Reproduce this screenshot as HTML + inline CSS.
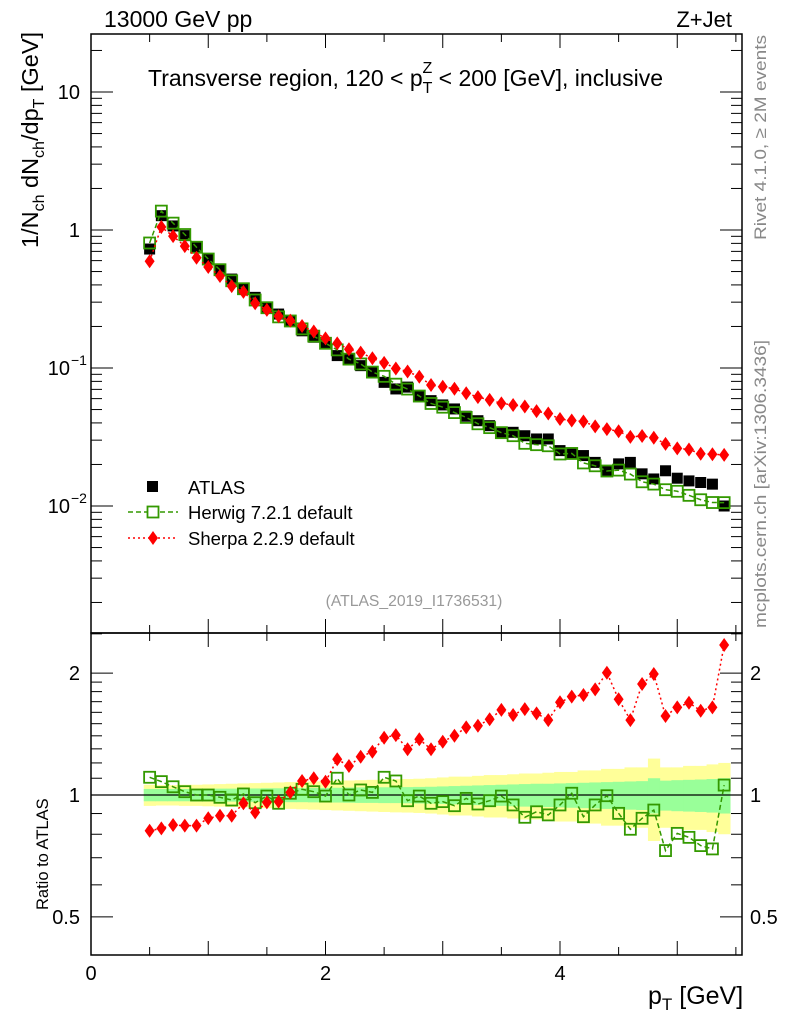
<!DOCTYPE html>
<html><head><meta charset="utf-8"><style>
body{margin:0;background:#fff;}
svg{display:block;font-family:"Liberation Sans",sans-serif;}
</style></head><body>
<svg id="c" width="786" height="1024" viewBox="0 0 786 1024"></svg>
<script>
const xVals=[];for(let i=0;i<50;i++)xVals.push(+(0.5+0.1*i).toFixed(2));
const atlas=[0.728,1.27,1.07,0.91,0.75,0.616,0.522,0.441,0.373,0.325,0.275,0.246,0.217,0.186,0.167,0.152,0.123,0.116,0.104,0.092,0.0787,0.0705,0.0727,0.063,0.058,0.054,0.0505,0.0447,0.0415,0.0382,0.0342,0.0342,0.0323,0.0306,0.0306,0.0252,0.0238,0.0232,0.0207,0.018,0.0202,0.0207,0.0171,0.0157,0.018,0.0159,0.0152,0.0148,0.0144,0.0100];
const herwigRatio=[1.106,1.079,1.048,1.019,1,1,0.987,0.972,1.006,0.957,0.994,0.954,1.01,1.033,1.019,0.994,1.1,1,1.029,1.015,1.106,1.083,0.968,0.994,0.954,0.963,0.941,0.981,0.950,0.968,0.994,0.945,0.881,0.909,0.893,0.945,1.01,0.884,0.945,0.996,0.901,0.823,0.876,0.918,0.729,0.804,0.786,0.75,0.736,1.058];
const sherpaRatio=[0.816,0.827,0.843,0.840,0.840,0.876,0.889,0.889,0.954,0.906,0.959,0.963,1.015,1.083,1.100,1.078,1.225,1.179,1.243,1.279,1.385,1.406,1.297,1.373,1.297,1.354,1.401,1.469,1.483,1.538,1.622,1.576,1.630,1.591,1.531,1.694,1.749,1.766,1.823,2.004,1.723,1.531,1.88,1.99,1.567,1.646,1.69,1.615,1.646,2.346];
const errTot=[0.06,0.058,0.058,0.06,0.06,0.062,0.064,0.066,0.068,0.07,0.072,0.074,0.076,0.078,0.08,0.082,0.084,0.086,0.088,0.09,0.092,0.094,0.095,0.097,0.1,0.105,0.11,0.11,0.115,0.12,0.12,0.125,0.13,0.13,0.135,0.14,0.14,0.15,0.15,0.16,0.16,0.17,0.17,0.23,0.17,0.17,0.18,0.18,0.19,0.2];
const errStat=[0.035,0.035,0.035,0.035,0.036,0.036,0.037,0.037,0.038,0.038,0.039,0.039,0.04,0.04,0.041,0.041,0.042,0.043,0.044,0.044,0.045,0.045,0.046,0.047,0.048,0.05,0.052,0.054,0.056,0.058,0.06,0.062,0.064,0.066,0.066,0.068,0.07,0.072,0.074,0.076,0.078,0.08,0.082,0.1,0.085,0.088,0.09,0.092,0.095,0.1];
const xTickLabels=["0","2","4"];
const yRatioLabels=["0.5","1","2"];

const NS="http://www.w3.org/2000/svg";
const svg=document.getElementById('c');
function mk(tag,attrs,parent){const e=document.createElementNS(NS,tag);for(const k in attrs)e.setAttribute(k,attrs[k]);(parent||svg).appendChild(e);return e;}
const L=91,R=742,T=34,MB=633,B=955;
const X=v=>L+v*117.25;
const Y=v=>230-138*Math.log10(v);
const YR=v=>795-405*Math.log10(v);

const gBand=mk('g',{});


xVals.forEach((x,i)=>{
  const a=mk('rect',{x:X(x-0.05),width:117.25*0.1+0.5,y:YR(1+errTot[i]),height:YR(1-errTot[i])-YR(1+errTot[i]),fill:'#ffff99'},gBand);
  
  
});
xVals.forEach((x,i)=>{
  const a=mk('rect',{x:X(x-0.05),width:117.25*0.1+0.5,y:YR(1+errStat[i]),height:YR(1-errStat[i])-YR(1+errStat[i]),fill:'#99ff99'},gBand);
  
  
});
const ref=mk('line',{x1:L,x2:R,y1:YR(1),y2:YR(1),stroke:'#000','stroke-width':1.3});



for(const [t,b,n] of [[T,MB,'main-plot-frame'],[MB,B,'ratio-plot-frame']]){
  const f=mk('rect',{x:L,y:t,width:R-L,height:b-t,fill:'none',stroke:'#000','stroke-width':1.5});
  
  
}
function tick(x1,y1,x2,y2){mk('line',{x1,y1,x2,y2,stroke:'#000','stroke-width':1});}
for(let v=0;v<=5.5;v+=0.5){
  const major=Math.abs(v-Math.round(v))<1e-6;const len=major?14:8;
  for(const [t,b] of [[T,MB],[MB,B]]){tick(X(v),b,X(v),b-len);tick(X(v),t,X(v),t+len);}
}
xTickLabels.forEach(s=>{const t=mk('text',{x:X(+s),y:980,'font-size':20,'text-anchor':'middle'});t.textContent=s;
  });
for(let d=-3;d<=1;d++){for(let m=1;m<=9;m++){const v=m*Math.pow(10,d);const y=Y(v);if(y<T||y>MB)continue;const len=m===1?22:11;tick(L,y,L+len,y);tick(R,y,R-len,y);}}
[[10,'10',null],[1,'1',null],[0.1,'10','−1'],[0.01,'10','−2']].forEach(([v,b,e])=>{
  const t=mk('text',{x:e?70:80,y:Y(v)+7,'font-size':20,'text-anchor':'end'});t.textContent=b;
  
  if(e){const s=mk('text',{x:71,y:Y(v)-3,'font-size':14});s.textContent=e;}
});
[0.5,0.6,0.7,0.8,0.9,1,1.1,1.2,1.3,1.4,1.5,1.6,1.7,1.8,1.9,2,2.5].forEach(v=>{const y=YR(v);if(y<MB||y>B)return;const len=(v===0.5||v===1||v===2)?22:11;tick(L,y,L+len,y);tick(R,y,R-len,y);});
yRatioLabels.forEach(s=>{const v=+s;
  const t=mk('text',{x:80,y:YR(v)+7,'font-size':20,'text-anchor':'end'});t.textContent=s;
  
  const t2=mk('text',{x:750,y:YR(v)+7,'font-size':20});t2.textContent=s;
  });

function diamond(cx,cy,g){return mk('polygon',{points:`${cx},${cy-7} ${cx+5},${cy} ${cx},${cy+7} ${cx-5},${cy}`,fill:'#ff0000'},g);}
function sq(cx,cy,g){return mk('rect',{x:cx-5.5,y:cy-5.5,width:11,height:11,fill:'none',stroke:'#339900','stroke-width':1.8},g);}
function line(pts,color,dash,g){return mk('polyline',{points:pts.map(p=>p.join(',')).join(' '),fill:'none',stroke:color,'stroke-width':1.5,'stroke-dasharray':dash},g);}

const atlasG=mk('g',{});
const herG=mk('g',{});
const sheG=mk('g',{});
line(xVals.map((x,i)=>[X(x),Y(atlas[i]*herwigRatio[i])]),'#339900','5,3',herG);
line(xVals.map((x,i)=>[X(x),Y(atlas[i]*sherpaRatio[i])]),'#ff0000','2,3',sheG);
xVals.forEach((x,i)=>{const r=mk('rect',{x:X(x)-5.5,y:Y(atlas[i])-5.5,width:11,height:11,fill:'#000'},atlasG);
  });
xVals.forEach((x,i)=>{const r=sq(X(x),Y(atlas[i]*herwigRatio[i]),herG);
  });
xVals.forEach((x,i)=>{const r=diamond(X(x),Y(atlas[i]*sherpaRatio[i]),sheG);
  });
const herR=mk('g',{});
const sheR=mk('g',{});
line(xVals.map((x,i)=>[X(x),YR(herwigRatio[i])]),'#339900','5,3',herR);
line(xVals.map((x,i)=>[X(x),YR(sherpaRatio[i])]),'#ff0000','2,3',sheR);
xVals.forEach((x,i)=>{const r=sq(X(x),YR(herwigRatio[i]),herR);
  });
xVals.forEach((x,i)=>{const r=diamond(X(x),YR(sherpaRatio[i]),sheR);
  });
</script>
<svg width="786" height="1024" style="position:absolute;left:0;top:0" font-family="Liberation Sans, sans-serif">
<text x="104" y="27" font-size="23">13000 GeV pp</text>
<text x="732" y="27" font-size="22" text-anchor="end">Z+Jet</text>
<text x="148" y="86" font-size="23">Transverse region, 120 &lt; p<tspan font-size="16" dy="7">T</tspan><tspan font-size="16" dx="-10" dy="-20">Z</tspan><tspan dy="13"> &lt; 200 [GeV], inclusive</tspan></text>
<g transform="translate(38,248) rotate(-90)">
<text x="0" y="0" font-size="23.5">1/N<tspan font-size="16" dy="6">ch</tspan><tspan dy="-6"> dN</tspan><tspan font-size="16" dy="6">ch</tspan><tspan dy="-6">/dp</tspan><tspan font-size="16" dy="6">T</tspan><tspan dy="-6"> [GeV]</tspan></text></g>
<text transform="translate(48,910) rotate(-90)" font-size="16.5">Ratio to ATLAS</text>
<text x="648" y="1004" font-size="25">p<tspan font-size="17" dy="6">T</tspan><tspan dy="-6"> [GeV]</tspan></text>
<text transform="translate(766,240) rotate(-90)" font-size="17" fill="#888" textLength="205" lengthAdjust="spacingAndGlyphs">Rivet 4.1.0, ≥ 2M events</text>
<text transform="translate(766,628) rotate(-90)" font-size="17" fill="#888" textLength="288" lengthAdjust="spacingAndGlyphs">mcplots.cern.ch [arXiv:1306.3436]</text>
<text x="414" y="606" font-size="15.7" fill="#999" text-anchor="middle">(ATLAS_2019_I1736531)</text>
<g>
<rect x="147" y="481" width="11" height="11" fill="#000"/>
<text x="188" y="494" font-size="18.5">ATLAS</text>
<line x1="128" y1="512" x2="178" y2="512" stroke="#339900" stroke-width="1.5" stroke-dasharray="5,3"/>
<rect x="147.5" y="506.5" width="11" height="11" fill="#fff" stroke="#339900" stroke-width="1.8"/>
<text x="188" y="519" font-size="18.5">Herwig 7.2.1 default</text>
<line x1="128" y1="538" x2="178" y2="538" stroke="#ff0000" stroke-width="1.5" stroke-dasharray="2,3"/>
<polygon points="153,531 158,538 153,545 148,538" fill="#ff0000"/>
<text x="188" y="545" font-size="18.5">Sherpa 2.2.9 default</text>
</g>
</svg>
</body></html>
